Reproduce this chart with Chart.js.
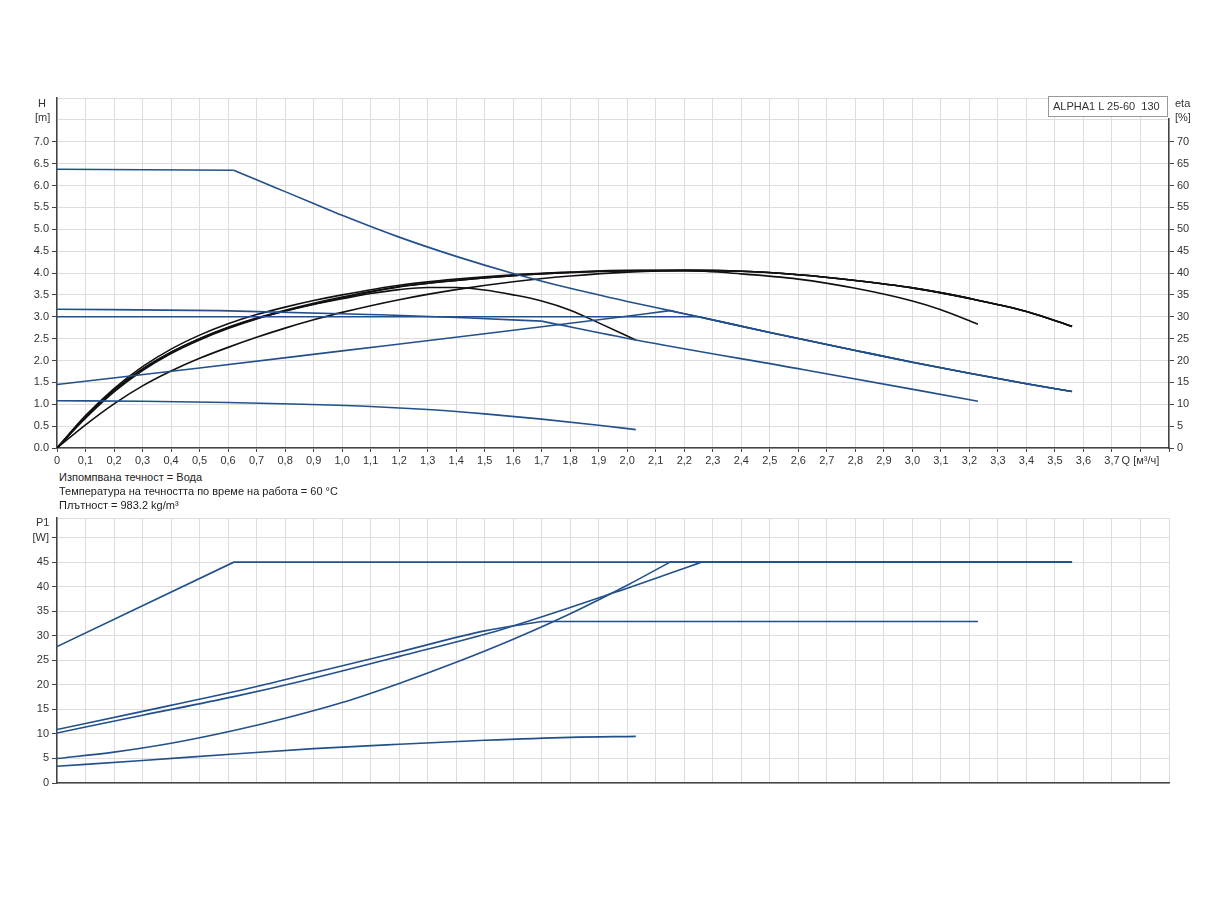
<!DOCTYPE html>
<html>
<head>
<meta charset="utf-8">
<script src="https://cdn.jsdelivr.net/npm/chart.js@4/dist/chart.umd.min.js"></script>
<style>
  body { margin: 0; background: #fff; width: 1224px; height: 900px; position: relative; overflow: hidden;
         font-family: "Liberation Sans", Arial, sans-serif; color: #333; }
  canvas { position: absolute; left: 0; }
  .lbl { position: absolute; font-size: 11px; line-height: 14px; white-space: nowrap; }
  .info { color: #222; }
  #legendBox { position: absolute; left: 1048px; top: 96px; width: 120px; height: 21px; background: #fff;
               border: 1px solid #999; font-size: 11px; line-height: 19px; padding-left: 4px; box-sizing: border-box; }
</style>
</head>
<body>
<canvas id="topChart" width="1224" height="470" style="top:0"></canvas>
<canvas id="bottomChart" width="1224" height="300" style="top:500px"></canvas>

<div class="lbl" style="left:38px;top:96px">H</div>
<div class="lbl" style="left:35px;top:110px">[m]</div>
<div class="lbl" style="left:1175px;top:96px">eta</div>
<div class="lbl" style="left:1175px;top:110px">[%]</div>
<div style="position:absolute;left:1167px;top:96px;width:4px;height:22px;background:#fff"></div>
<div id="legendBox">ALPHA1 L 25-60&nbsp;&nbsp;130</div>

<div class="lbl info" style="left:59px;top:470px">Изпомпвана течност = Вода</div>
<div class="lbl info" style="left:59px;top:484px">Температура на течността по време на работа = 60 °C</div>
<div class="lbl info" style="left:59px;top:498px">Плътност = 983.2 kg/m³</div>
<div class="lbl" style="left:36px;top:515px">P1</div>

<script>
// tick labels
const qTickLabels = ['0','0,1','0,2','0,3','0,4','0,5','0,6','0,7','0,8','0,9','1,0','1,1','1,2','1,3','1,4','1,5','1,6','1,7','1,8','1,9',
  '2,0','2,1','2,2','2,3','2,4','2,5','2,6','2,7','2,8','2,9','3,0','3,1','3,2','3,3','3,4','3,5','3,6','3,7','Q [м³/ч]',''];
const hTickLabels = ['0.0','0.5','1.0','1.5','2.0','2.5','3.0','3.5','4.0','4.5','5.0','5.5','6.0','6.5','7.0','',''];
const etaTickLabels = ['0','5','10','15','20','25','30','35','40','45','50','55','60','65','70','',''];
const pTickLabels = ['0','5','10','15','20','25','30','35','40','45','[W]',''];

// H curves [m]
const hMaxQ = [0, 0.62, 0.7, 0.8, 0.9, 1.0, 1.2, 1.4, 1.6, 1.8, 2.0, 2.15, 2.25, 2.5, 2.8, 3.0, 3.2, 3.4, 3.56];
const hMaxH = [6.37, 6.35, 6.13, 5.86, 5.59, 5.32, 4.82, 4.38, 3.99, 3.65, 3.35, 3.14, 3.00, 2.64, 2.23, 1.96, 1.71, 1.47, 1.29];
const hConstQ = [0, 1.0, 2.25, 2.5, 2.8, 3.0, 3.2, 3.4, 3.56];
const hConstH = [3.0, 3.0, 3.0, 2.64, 2.23, 1.96, 1.71, 1.47, 1.29];
const hPropQ = [0, 0.5, 1.0, 1.5, 1.9, 2.15, 2.25, 2.5, 2.8, 3.0, 3.2, 3.4, 3.56];
const hPropH = [1.45, 1.83, 2.22, 2.61, 2.93, 3.14, 3.00, 2.64, 2.23, 1.96, 1.71, 1.47, 1.29];
const hPp2Q = [0, 0.57, 1.16, 1.45, 1.7, 2.03, 2.62, 3.23];
const hPp2H = [3.17, 3.14, 3.04, 2.97, 2.90, 2.47, 1.79, 1.07];
const hLowQ = [0, 0.3, 0.6, 0.86, 1.1, 1.3, 1.5, 1.7, 1.9, 2.03];
const hLowH = [1.08, 1.07, 1.04, 1.00, 0.95, 0.88, 0.78, 0.66, 0.52, 0.42];

// eta curves [%]
const eMaxQ = [0, 0.1, 0.2, 0.3, 0.4, 0.5, 0.6, 0.7, 0.8, 0.9, 1.0, 1.2, 1.4, 1.6, 1.8, 2.0, 2.2, 2.4, 2.6, 2.8, 3.0, 3.2, 3.4, 3.56];
const eMaxE = [0, 5.3, 10.1, 14.2, 17.6, 20.5, 23.0, 25.3, 27.4, 29.3, 31.0, 33.9, 36.2, 38.0, 39.3, 40.2, 40.6, 40.4, 39.6, 38.3, 36.6, 34.2, 31.2, 27.8];
const eConstQ = [0, 0.1, 0.2, 0.3, 0.4, 0.5, 0.6, 0.7, 0.8, 0.9, 1.0, 1.2, 1.4, 1.6, 1.8, 2.0, 2.2, 2.4, 2.6, 2.8, 3.0, 3.2, 3.4, 3.56];
const eConstE = [0, 7.0, 13.1, 18.0, 21.9, 25.0, 27.6, 29.7, 31.5, 33.1, 34.5, 36.9, 38.3, 39.4, 40.1, 40.5, 40.6, 40.4, 39.6, 38.3, 36.6, 34.2, 31.2, 27.8];
const ePropQ = [0, 0.1, 0.2, 0.3, 0.4, 0.5, 0.6, 0.7, 0.8, 0.9, 1.0, 1.2, 1.4, 1.6, 1.8, 2.0, 2.2, 2.4, 2.6, 2.8, 3.0, 3.2, 3.4, 3.56];
const ePropE = [0, 7.4, 13.6, 18.6, 22.6, 25.8, 28.4, 30.5, 32.2, 33.7, 35.0, 37.2, 38.6, 39.6, 40.2, 40.6, 40.6, 40.4, 39.6, 38.3, 36.6, 34.2, 31.2, 27.8];
const ePp2Q = [0, 0.1, 0.2, 0.3, 0.4, 0.5, 0.6, 0.7, 0.8, 0.9, 1.0, 1.2, 1.4, 1.6, 1.8, 2.0, 2.2, 2.4, 2.6, 2.8, 3.0, 3.1, 3.23];
const ePp2E = [0, 6.8, 12.8, 17.7, 21.6, 24.7, 27.3, 29.5, 31.3, 32.9, 34.3, 36.8, 38.3, 39.4, 40.1, 40.5, 40.5, 39.8, 38.6, 36.5, 33.6, 31.6, 28.3];
const eLowQ = [0, 0.1, 0.2, 0.3, 0.4, 0.5, 0.6, 0.7, 0.8, 0.9, 1.0, 1.1, 1.2, 1.3, 1.4, 1.5, 1.6, 1.7, 1.8, 1.9, 2.03];
const eLowE = [0, 7.2, 13.3, 18.1, 21.9, 25.0, 27.5, 29.6, 31.3, 32.8, 34.1, 35.3, 36.2, 36.7, 36.7, 36.1, 35.0, 33.6, 31.5, 28.6, 24.7];

// P1 curves [W]
const pMaxQ = [0, 0.62, 3.56];
const pMaxP = [27.8, 45, 45];
const pConstQ = [0, 0.3, 0.62, 0.86, 1.2, 1.56, 1.96, 2.26, 3.56];
const pConstP = [10.2, 13.8, 17.6, 20.8, 25.8, 31.3, 38.9, 45, 45];
const pPp2Q = [0, 0.3, 0.62, 0.86, 1.2, 1.5, 1.7, 3.23];
const pPp2P = [10.9, 14.6, 18.6, 21.9, 26.7, 31.0, 32.9, 32.9];
const pPropQ = [0, 0.2, 0.4, 0.62, 0.8, 1.0, 1.2, 1.4, 1.6, 1.8, 2.0, 2.15, 3.56];
const pPropP = [5.0, 6.3, 8.1, 10.7, 13.2, 16.4, 20.3, 24.6, 29.3, 34.5, 40.3, 45, 45];
const pLowQ = [0, 0.3, 0.62, 0.9, 1.2, 1.5, 1.8, 2.03];
const pLowP = [3.4, 4.6, 5.9, 7.0, 7.9, 8.7, 9.3, 9.5];

const BLUE = '#22508c';
const BLACK = '#111111';
const GRID = '#dddddd';
const AXIS = '#444444';
const FONT = { family: '"Liberation Sans", Arial, sans-serif', size: 11 };

// one dataset from points a..b of a curve; curves with a kink are drawn as two pieces
function seg(xs, ys, a, b, color, axis, smooth) {
  const data = [];
  for (let i = a; i <= b; i++) data.push({ x: xs[i], y: ys[i] });
  return {
    data: data,
    borderColor: color,
    borderWidth: 1.6,
    pointRadius: 0,
    fill: false,
    cubicInterpolationMode: smooth ? 'monotone' : 'default',
    tension: smooth ? 0.4 : 0,
    yAxisID: axis
  };
}
function whole(xs, ys, color, axis) { return seg(xs, ys, 0, xs.length - 1, color, axis, true); }
function fixWidth(w) { return function (scale) { scale.width = w; }; }
function fixHeight(h) { return function (scale) { scale.height = h; }; }

const xBase = {
  type: 'linear', min: 0, max: 3.9,
  grid: { color: GRID, lineWidth: 1, tickColor: AXIS, tickLength: 4 },
  border: { color: AXIS, width: 1.5 }
};

new Chart(document.getElementById('topChart'), {
  type: 'line',
  data: {
    datasets: [
      whole(hLowQ, hLowH, BLUE, 'y'),
      seg(hPp2Q, hPp2H, 0, 4, BLUE, 'y', true),
      seg(hPp2Q, hPp2H, 4, hPp2Q.length - 1, BLUE, 'y', true),
      seg(hPropQ, hPropH, 0, 5, BLUE, 'y', true),
      seg(hPropQ, hPropH, 5, hPropQ.length - 1, BLUE, 'y', true),
      seg(hConstQ, hConstH, 0, 2, BLUE, 'y', false),
      seg(hConstQ, hConstH, 2, hConstQ.length - 1, BLUE, 'y', true),
      seg(hMaxQ, hMaxH, 0, 1, BLUE, 'y', false),
      seg(hMaxQ, hMaxH, 1, hMaxQ.length - 1, BLUE, 'y', true),
      whole(eLowQ, eLowE, BLACK, 'eta'),
      whole(ePp2Q, ePp2E, BLACK, 'eta'),
      whole(ePropQ, ePropE, BLACK, 'eta'),
      whole(eConstQ, eConstE, BLACK, 'eta'),
      whole(eMaxQ, eMaxE, BLACK, 'eta')
    ]
  },
  options: {
    responsive: false,
    animation: false,
    devicePixelRatio: 1,
    layout: { padding: { top: 98, left: 0, right: 0, bottom: 0 } },
    plugins: { legend: { display: false }, tooltip: { enabled: false } },
    scales: {
      x: Object.assign({}, xBase, {
        afterFit: fixHeight(22),
        ticks: { stepSize: 0.1, autoSkip: false, maxRotation: 0, padding: 2, color: '#333', font: FONT,
                 callback: (v, i) => qTickLabels[i] }
      }),
      y: {
        type: 'linear', position: 'left', min: 0, max: 8,
        afterFit: fixWidth(57),
        grid: { color: GRID, tickLength: 5, tickColor: (c) => c.tick && c.tick.value > 7 ? 'rgba(0,0,0,0)' : AXIS },
        border: { color: AXIS, width: 1.5 },
        ticks: { stepSize: 0.5, autoSkip: false, padding: 3, color: '#333', font: FONT,
                 callback: (v, i) => hTickLabels[i] }
      },
      eta: {
        type: 'linear', position: 'right', min: 0, max: 80,
        afterFit: fixWidth(55),
        grid: { drawOnChartArea: false, tickLength: 5, tickColor: (c) => c.tick && c.tick.value > 70 ? 'rgba(0,0,0,0)' : AXIS },
        border: { color: AXIS, width: 1.5 },
        ticks: { stepSize: 5, autoSkip: false, padding: 3, color: '#333', font: FONT,
                 callback: (v, i) => etaTickLabels[i] }
      }
    }
  }
});

new Chart(document.getElementById('bottomChart'), {
  type: 'line',
  data: {
    datasets: [
      whole(pLowQ, pLowP, BLUE, 'y'),
      seg(pPropQ, pPropP, 0, 11, BLUE, 'y', true),
      seg(pPropQ, pPropP, 11, 12, BLUE, 'y', false),
      seg(pPp2Q, pPp2P, 0, 6, BLUE, 'y', true),
      seg(pPp2Q, pPp2P, 6, 7, BLUE, 'y', false),
      seg(pConstQ, pConstP, 0, 7, BLUE, 'y', true),
      seg(pConstQ, pConstP, 7, 8, BLUE, 'y', false),
      seg(pMaxQ, pMaxP, 0, 2, BLUE, 'y', false)
    ]
  },
  options: {
    responsive: false,
    animation: false,
    devicePixelRatio: 1,
    layout: { padding: { top: 18, left: 0, right: 55, bottom: 0 } },
    plugins: { legend: { display: false }, tooltip: { enabled: false } },
    scales: {
      x: Object.assign({}, xBase, {
        afterFit: fixHeight(17),
        grid: { color: GRID, lineWidth: 1, drawTicks: false },
        ticks: { display: false, stepSize: 0.1, autoSkip: false }
      }),
      y: {
        type: 'linear', position: 'left', min: 0, max: 54,
        afterFit: fixWidth(57),
        grid: { color: GRID, tickLength: 5, tickColor: (c) => c.tick && c.tick.value > 50 ? 'rgba(0,0,0,0)' : AXIS },
        border: { color: AXIS, width: 1.5 },
        ticks: { stepSize: 5, autoSkip: false, padding: 3, color: '#333', font: FONT,
                 callback: (v, i) => pTickLabels[i] }
      }
    }
  }
});
</script>
</body>
</html>
